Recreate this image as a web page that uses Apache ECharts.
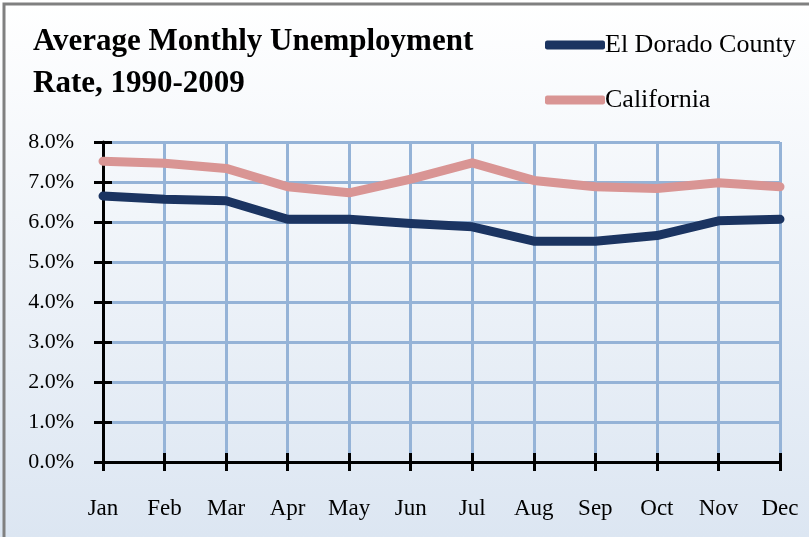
<!DOCTYPE html>
<html><head><meta charset="utf-8">
<script src="https://cdn.jsdelivr.net/npm/echarts@6/dist/echarts.min.js"></script>
<style>html,body{margin:0;padding:0;}#c{width:809px;height:537px;}</style>
</head><body><div id="c"></div>
<script>
const months = ['Jan','Feb','Mar','Apr','May','Jun','Jul','Aug','Sep','Oct','Nov','Dec'];
const elDorado = [6.65, 6.57, 6.53, 6.07, 6.07, 5.96, 5.88, 5.52, 5.52, 5.66, 6.03, 6.07];
const california = [7.52, 7.47, 7.34, 6.88, 6.73, 7.07, 7.48, 7.04, 6.88, 6.84, 6.98, 6.88];
const yTicks = {min: 0, max: 8, interval: 1};
const font = 'Liberation Serif';

const chart = echarts.init(document.getElementById('c'), null, {renderer: 'canvas'});
chart.setOption({
  animation: false,
  backgroundColor: {type: 'linear', x: 0, y: 0, x2: 0, y2: 1, colorStops: [{offset: 0, color: '#ffffff'}, {offset: 1, color: '#dce6f2'}]},
  graphic: [{type: 'rect', shape: {x: 4, y: 4, width: 900, height: 700}, style: {fill: 'none', stroke: '#808080', lineWidth: 3}, silent: true}],
  title: {
    text: 'Average Monthly Unemployment\nRate, 1990-2009',
    left: 28, top: 16,
    textStyle: {fontFamily: font, fontWeight: 'bold', fontSize: 31, color: '#000', lineHeight: 42}
  },
  legend: {
    orient: 'vertical', left: 540, top: 27, itemGap: 29,
    itemWidth: 60, itemHeight: 9,
    textStyle: {fontFamily: font, fontSize: 26, color: '#000', padding: [0,0,0,-5]},
    data: [{name: 'El Dorado County', icon: 'roundRect'}, {name: 'California', icon: 'roundRect'}]
  },
  grid: {left: 103, right: 29, top: 142, bottom: 75},
  xAxis: [{
    type: 'category', data: months, boundaryGap: false,
    axisLine: {lineStyle: {color: '#000', width: 3}},
    axisTick: {show: true, length: 9, lineStyle: {color: '#000', width: 3}},
    axisLabel: {fontFamily: font, fontSize: 23, color: '#000', margin: 35},
    splitLine: {show: true, lineStyle: {color: '#95b3d7', width: 3}}
  }, {
    type: 'category', data: months, boundaryGap: false, position: 'bottom',
    axisLine: {show: false},
    axisTick: {show: true, inside: true, length: 9, lineStyle: {color: '#000', width: 3}},
    axisLabel: {show: false}, splitLine: {show: false}
  }],
  yAxis: [{
    type: 'value', min: yTicks.min, max: yTicks.max, interval: yTicks.interval,
    axisLine: {show: true, lineStyle: {color: '#000', width: 3}},
    axisTick: {show: true, length: 9, lineStyle: {color: '#000', width: 3}},
    axisLabel: {fontFamily: font, fontSize: 22, color: '#000', margin: 29, formatter: v => v.toFixed(1) + '%'},
    splitLine: {show: true, lineStyle: {color: '#95b3d7', width: 3}}
  }, {
    type: 'value', min: yTicks.min, max: yTicks.max, interval: yTicks.interval, position: 'left',
    axisLine: {show: false},
    axisTick: {show: true, inside: true, length: 9, lineStyle: {color: '#000', width: 3}},
    axisLabel: {show: false}, splitLine: {show: false}
  }],
  series: [
    {name: 'El Dorado County', type: 'line', data: elDorado, symbol: 'none', z: 5,
     lineStyle: {color: '#1b3461', width: 9, cap: 'round', join: 'round'}, itemStyle: {color: '#1b3461'}},
    {name: 'California', type: 'line', data: california, symbol: 'none', z: 4,
     lineStyle: {color: '#d99594', width: 9, cap: 'round', join: 'round'}, itemStyle: {color: '#d99594'}}
  ]
});
</script></body></html>
